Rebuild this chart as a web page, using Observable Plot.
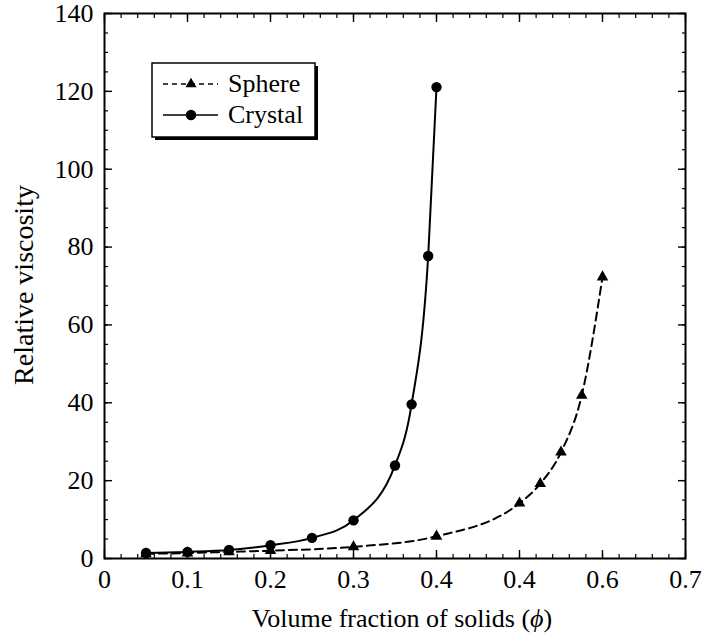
<!DOCTYPE html>
<html>
<head>
<meta charset="utf-8">
<script src="https://cdn.jsdelivr.net/npm/d3@7"></script>
<script src="https://cdn.jsdelivr.net/npm/@observablehq/plot@0.6"></script>
<style>
  body { margin: 0; background: #fff; }
  #chart { width: 705px; height: 641px; }
</style>
</head>
<body>
<div id="chart"></div>
<script>
// Relative viscosity of suspensions against the volume fraction of solids
const sphereFraction  = [0.05, 0.1, 0.15, 0.2, 0.3, 0.4, 0.5, 0.525, 0.55, 0.575, 0.6];
const sphereViscosity = [1.2, 1.4, 1.7, 2.0, 3.0, 5.7, 14.2, 19.2, 27.3, 41.9, 72.3];
const crystalFraction  = [0.05, 0.1, 0.15, 0.2, 0.25, 0.3, 0.35, 0.37, 0.39, 0.4];
const crystalViscosity = [1.4, 1.7, 2.2, 3.4, 5.3, 9.8, 23.9, 39.6, 77.7, 121.1];
const seriesNames = ["Sphere", "Crystal"];

const xTicks = [0, 0.1, 0.2, 0.3, 0.4, 0.5, 0.6, 0.7];
const xTickLabels = ["0", "0.1", "0.2", "0.3", "0.4", "0.4", "0.6", "0.7"];
const yTicks = [0, 20, 40, 60, 80, 100, 120, 140];
const xLabel = "Volume fraction of solids (";
const xLabelSymbol = "\u03D5";
const yLabel = "Relative viscosity";

const sphere = sphereFraction.map((x, i) => ({x, y: sphereViscosity[i]}));
const crystal = crystalFraction.map((x, i) => ({x, y: crystalViscosity[i]}));

const xMinor = d3.range(0, 36).map(i => i / 50);
const yMinor = d3.range(0, 29).map(i => i * 5);

const FONT = "'Liberation Serif', 'Times New Roman', serif";
const noText = () => "";

const plot = Plot.plot({
  width: 705,
  height: 641,
  marginLeft: 104,
  marginRight: 20,
  marginTop: 13,
  marginBottom: 83,
  style: {fontFamily: FONT, fontSize: "26px", color: "#000", background: "#fff"},
  x: {domain: [0, 0.7]},
  y: {domain: [0, 140]},
  marks: [
    // minor ticks, inward on all four sides
    Plot.axisX(xMinor, {anchor: "bottom", tickSize: -4, tickFormat: noText, label: null, strokeWidth: 1.2}),
    Plot.axisX(xMinor, {anchor: "top", tickSize: -4, tickFormat: noText, label: null, strokeWidth: 1.2}),
    Plot.axisY(yMinor, {anchor: "left", tickSize: -4, tickFormat: noText, label: null, strokeWidth: 1.2}),
    Plot.axisY(yMinor, {anchor: "right", tickSize: -4, tickFormat: noText, label: null, strokeWidth: 1.2}),
    // major ticks with labels
    Plot.axisX(xTicks, {
      anchor: "bottom", tickSize: -8, tickPadding: 19, strokeWidth: 1.4,
      tickFormat: d => xTickLabels[xTicks.indexOf(d)], label: null
    }),
    Plot.axisX(xTicks, {anchor: "top", tickSize: -8, tickFormat: noText, label: null, strokeWidth: 1.4}),
    Plot.axisY(yTicks, {anchor: "left", tickSize: -8, tickPadding: 19, strokeWidth: 1.4, label: null}),
    Plot.axisY(yTicks, {anchor: "right", tickSize: -8, tickFormat: noText, label: null, strokeWidth: 1.4}),
    Plot.frame({stroke: "#000", strokeWidth: 2}),
    // Sphere: dashed fit with triangles
    Plot.line(sphere, {x: "x", y: "y", curve: "monotone-x", stroke: "#000", strokeWidth: 2, strokeDasharray: "8,5"}),
    Plot.dot(sphere, {x: "x", y: "y", symbol: "triangle", r: 4.3, fill: "#000", stroke: "none"}),
    // Crystal: solid fit with circles
    Plot.line(crystal, {x: "x", y: "y", curve: "monotone-x", stroke: "#000", strokeWidth: 2}),
    Plot.dot(crystal, {x: "x", y: "y", symbol: "circle", r: 5.2, fill: "#000", stroke: "none"})
  ]
});

document.getElementById("chart").appendChild(plot);

const svg = d3.select(plot);

// axis titles
const xt = svg.append("text")
  .attr("x", 402).attr("y", 627)
  .attr("text-anchor", "middle")
  .attr("font-family", FONT).attr("font-size", 26).attr("fill", "#000");
xt.append("tspan").text(xLabel);
xt.append("tspan").attr("font-style", "italic").text(xLabelSymbol);
xt.append("tspan").text(")");

svg.append("text")
  .attr("transform", "translate(33,285) rotate(-90)")
  .attr("text-anchor", "middle")
  .attr("font-family", FONT).attr("font-size", 28).attr("fill", "#000")
  .text(yLabel);

// legend box with drop shadow
const lg = svg.append("g");
const bx = 152, by = 63, bw = 163, bh = 74;
lg.append("rect").attr("x", bx + 3).attr("y", by + 3).attr("width", bw).attr("height", bh).attr("fill", "#000");
lg.append("rect").attr("x", bx).attr("y", by).attr("width", bw).attr("height", bh)
  .attr("fill", "#fff").attr("stroke", "#000").attr("stroke-width", 1.5);

const rows = [
  {name: seriesNames[0], dash: "5,4", symbol: d3.symbolTriangle, size: 52, y: 84},
  {name: seriesNames[1], dash: null, symbol: d3.symbolCircle, size: Math.PI * 5.2 * 5.2, y: 115}
];
for (const r of rows) {
  lg.append("line").attr("x1", 163).attr("x2", 218).attr("y1", r.y).attr("y2", r.y)
    .attr("stroke", "#000").attr("stroke-width", 1.6).attr("stroke-dasharray", r.dash);
  lg.append("path").attr("transform", `translate(191,${r.y})`)
    .attr("d", d3.symbol(r.symbol, r.size)()).attr("fill", "#000");
  lg.append("text").attr("x", 228).attr("y", r.y).attr("dy", "0.3em")
    .attr("text-anchor", "start")
    .attr("font-family", FONT).attr("font-size", 26).attr("fill", "#000")
    .text(r.name);
}
</script>
</body>
</html>
